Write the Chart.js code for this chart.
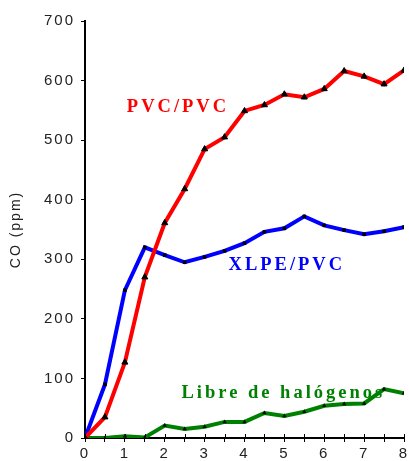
<!DOCTYPE html>
<html>
<head>
<meta charset="utf-8">
<title>CO (ppm)</title>
<script src="https://cdn.jsdelivr.net/npm/chart.js@4.4.1/dist/chart.umd.min.js"></script>
<style>
  body { margin: 0; background: #fff; }
  #wrap { width: 409px; height: 461px; }
</style>
</head>
<body>
<div id="wrap"><canvas id="Chart" width="409" height="461"></canvas></div>
<script>
// time axis (x) and CO values
var times = [0, 0.5, 1, 1.5, 2, 2.5, 3, 3.5, 4, 4.5, 5, 5.5, 6, 6.5, 7, 7.5, 8];
var pvcPvc = [0, 35, 127, 270, 361, 418, 485, 505, 549, 559, 577, 572, 586, 616, 607, 594, 617];
var xlpePvc = [0, 90, 248, 320, 307, 295, 304, 314, 327, 346, 352, 372, 357, 349, 342, 347, 354];
var libreHal = [0, 0, 3, 1, 21, 15, 19, 27, 27, 42, 37, 44, 54, 57, 58, 82, 75];
var seriesNames = ["PVC/PVC", "XLPE/PVC", "Libre de halógenos"];
var yTicks = [0, 100, 200, 300, 400, 500, 600, 700];

function pts(ys) {
  return times.map(function (t, i) { return { x: t, y: ys[i] }; });
}

// text labels next to the curves, anchored in data units
var curveLabels = [
  { text: seriesNames[0], x: 1.05, y: 555, color: "#ff0000" },
  { text: seriesNames[1], x: 3.6, y: 290, color: "#0000ff" },
  { text: seriesNames[2], x: 2.42, y: 75, color: "#008000" }
];

var labelPlugin = {
  id: "curveLabels",
  beforeDraw: function (chart) {
    // the axis digits in the picture are a bit spread out
    chart.ctx.letterSpacing = "2px";
  },
  afterDatasetsDraw: function (chart) {
    var ctx = chart.ctx, xs = chart.scales.x, ys = chart.scales.y;
    ctx.save();
    ctx.font = "bold 18.5px 'Liberation Serif', 'Times New Roman', serif";
    ctx.letterSpacing = "3px";
    ctx.textBaseline = "middle";
    ctx.textAlign = "left";
    curveLabels.forEach(function (l) {
      ctx.fillStyle = l.color;
      ctx.fillText(l.text, xs.getPixelForValue(l.x), ys.getPixelForValue(l.y));
    });
    ctx.restore();
  },
  afterDraw: function (chart) {
    // small tick marks above the x axis too
    var ctx = chart.ctx, xs = chart.scales.x;
    ctx.save();
    ctx.strokeStyle = "#000";
    ctx.lineWidth = 1;
    xs.ticks.forEach(function (t) {
      var px = Math.round(xs.getPixelForValue(t.value)) + 0.5;
      ctx.beginPath();
      ctx.moveTo(px, xs.top - 4);
      ctx.lineTo(px, xs.top);
      ctx.stroke();
    });
    ctx.restore();
    ctx.letterSpacing = "0px";
  }
};

var tickFont = { family: "'Liberation Sans', Arial, sans-serif", size: 15 };

new Chart("Chart", {
  type: "line",
  data: {
    datasets: [{
      label: seriesNames[0],
      data: pts(pvcPvc),
      borderColor: "#ff0000",
      borderWidth: 4,
      pointStyle: "triangle",
      pointRadius: 3.5,
      pointBackgroundColor: "#000",
      pointBorderColor: "#000",
      pointBorderWidth: 1,
      tension: 0,
      fill: false
    }, {
      label: seriesNames[1],
      data: pts(xlpePvc),
      borderColor: "#0000ff",
      borderWidth: 4,
      pointStyle: "rect",
      pointRadius: 2.5,
      pointBackgroundColor: "#000",
      pointBorderColor: "#000",
      pointBorderWidth: 0,
      tension: 0,
      fill: false
    }, {
      label: seriesNames[2],
      data: pts(libreHal),
      borderColor: "#008000",
      borderWidth: 4,
      pointStyle: "triangle",
      pointRadius: 2.5,
      pointBackgroundColor: "#000",
      pointBorderColor: "#000",
      pointBorderWidth: 0,
      tension: 0,
      fill: false
    }]
  },
  options: {
    responsive: false,
    animation: false,
    events: [],
    layout: { padding: { top: 21, right: 0, left: 0, bottom: 0 } },
    plugins: { legend: { display: false }, tooltip: { enabled: false } },
    scales: {
      x: {
        type: "linear",
        min: 0,
        max: 8,
        grid: { drawOnChartArea: false, drawTicks: true, tickLength: 4, color: "#000", tickWidth: 1 },
        border: { color: "#000", width: 2 },
        ticks: {
          stepSize: 0.5,
          autoSkip: false,
          maxRotation: 0,
          padding: 3,
          color: "#222",
          font: tickFont,
          callback: function (v) { return Number.isInteger(v) ? String(v) : ""; }
        },
        afterFit: function (s) { s.paddingRight = 0; s.paddingLeft = 0; s.height = 23; }
      },
      y: {
        min: 0,
        max: 700,
        grid: { drawOnChartArea: false, drawTicks: true, tickLength: 4, color: "#000", tickWidth: 1 },
        border: { color: "#000", width: 2 },
        afterBuildTicks: function (s) { s.ticks = yTicks.map(function (v) { return { value: v }; }); },
        ticks: {
          padding: 6,
          color: "#222",
          font: tickFont,
          callback: function (v) { return String(v); }
        },
        title: {
          display: true,
          text: "CO (ppm)",
          color: "#222",
          padding: { top: 8, bottom: 0 },
          font: { family: "'Liberation Sans', Arial, sans-serif", size: 14 }
        },
        afterFit: function (s) { s.width = 85; s.paddingTop = 0; }
      }
    }
  },
  plugins: [labelPlugin]
});
</script>
</body>
</html>
